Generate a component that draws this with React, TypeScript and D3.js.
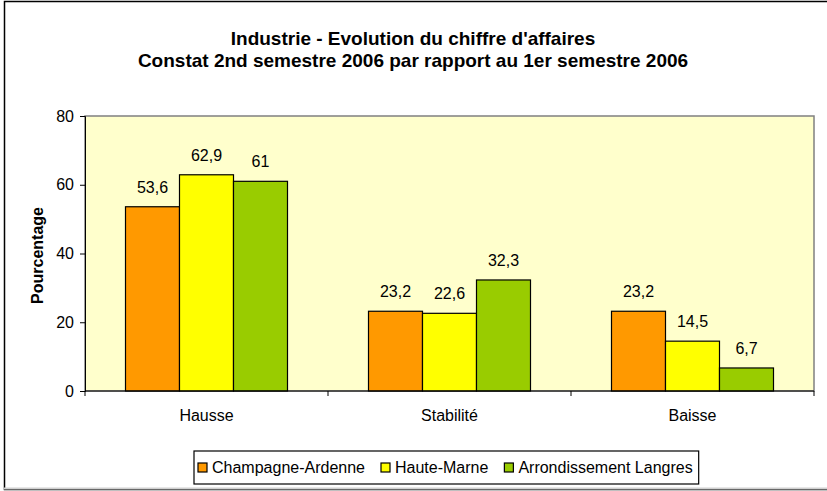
import { useEffect, useRef } from "react";
import * as d3 from "d3";

const categories = ["Hausse", "Stabilité", "Baisse"];
const seriesNames = ["Champagne-Ardenne", "Haute-Marne", "Arrondissement Langres"];
const champagne = [53.6, 23.2, 23.2];
const hauteMarne = [62.9, 22.6, 14.5];
const langres = [61, 32.3, 6.7];
const seriesColors = ["#FF9900", "#FFFF00", "#99CC00"];
const yTicks = [0, 20, 40, 60, 80];
const titleLines = [
  "Industrie - Evolution du chiffre d'affaires",
  "Constat 2nd semestre 2006 par rapport au 1er semestre 2006",
];

const W = 827;
const H = 491;
const plot = { left: 85, top: 116, right: 814, bottom: 391 };
const FONT = "'Liberation Sans', Arial, sans-serif";

const fmt = (v: number) => String(v).replace(".", ",");

export default function App() {
  const svgRef = useRef<SVGSVGElement>(null);

  useEffect(() => {
    const svg = d3.select(svgRef.current);
    svg.selectAll("*").remove();

    const values = [champagne, hauteMarne, langres];

    const x0 = d3.scaleBand().domain(categories).range([plot.left, plot.right]).paddingInner(0).paddingOuter(0);
    const x1 = d3
      .scaleBand()
      .domain(seriesNames)
      .range([0, x0.bandwidth()])
      .paddingInner(0)
      .paddingOuter(0.75);
    const y = d3.scaleLinear().domain([0, 80]).range([plot.bottom, plot.top]);

    // cadre extérieur
    svg.append("rect")
      .attr("x", 4.5).attr("y", 1.5)
      .attr("width", W + 10).attr("height", H - 3)
      .attr("fill", "#fff").attr("stroke", "#000").attr("stroke-width", 1.5);
    svg.append("line")
      .attr("x1", 4).attr("x2", W).attr("y1", H - 2.5).attr("y2", H - 2.5)
      .attr("stroke", "#d0d0d0").attr("stroke-width", 2);

    // titre
    svg.append("g").selectAll("text")
      .data(titleLines)
      .enter()
      .append("text")
      .attr("x", 413)
      .attr("y", (_d, i) => 45 + i * 22)
      .attr("text-anchor", "middle")
      .style("font-family", FONT)
      .style("font-weight", "bold")
      .style("font-size", "19px")
      .text((d) => d);

    // zone de traçage
    svg.append("rect")
      .attr("x", plot.left).attr("y", plot.top)
      .attr("width", plot.right - plot.left).attr("height", plot.bottom - plot.top)
      .attr("fill", "#FFFFCC").attr("stroke", "#808080").attr("stroke-width", 1.5);

    // barres
    const groups = svg.append("g").selectAll("g")
      .data(categories)
      .enter()
      .append("g")
      .attr("transform", (d) => `translate(${x0(d)},0)`);

    groups.selectAll("rect")
      .data((_c, ci) => seriesNames.map((s, si) => ({ s, si, v: values[si][ci] })))
      .enter()
      .append("rect")
      .attr("x", (d) => x1(d.s)!)
      .attr("y", (d) => y(d.v))
      .attr("width", x1.bandwidth())
      .attr("height", (d) => y(0) - y(d.v))
      .attr("fill", (d) => seriesColors[d.si])
      .attr("stroke", "#000")
      .attr("stroke-width", 1.2);

    groups.selectAll("text")
      .data((_c, ci) => seriesNames.map((s, si) => ({ s, si, v: values[si][ci] })))
      .enter()
      .append("text")
      .attr("x", (d) => x1(d.s)! + x1.bandwidth() / 2)
      .attr("y", (d) => y(d.v) - 14)
      .attr("text-anchor", "middle")
      .style("font-family", FONT)
      .style("font-size", "16px")
      .text((d) => fmt(d.v));

    // axe Y
    const yAxis = svg.append("g")
      .attr("transform", `translate(${plot.left},0)`)
      .call(d3.axisLeft(y).tickValues(yTicks).tickSize(5).tickPadding(6));
    yAxis.select(".domain").attr("stroke", "#000");
    yAxis.selectAll("text").style("font-family", FONT).style("font-size", "16px").attr("fill", "#000");

    // axe X
    const xAxis = svg.append("g").attr("transform", `translate(0,${plot.bottom})`);
    xAxis.append("line")
      .attr("x1", plot.left).attr("x2", plot.right)
      .attr("stroke", "#000");
    xAxis.selectAll("line.tick")
      .data([...categories.map((c) => x0(c)!), plot.right])
      .enter()
      .append("line")
      .attr("class", "tick")
      .attr("x1", (d) => d).attr("x2", (d) => d)
      .attr("y1", 0).attr("y2", 5)
      .attr("stroke", "#000");
    xAxis.selectAll("text")
      .data(categories)
      .enter()
      .append("text")
      .attr("x", (d) => x0(d)! + x0.bandwidth() / 2)
      .attr("y", 30)
      .attr("text-anchor", "middle")
      .style("font-family", FONT)
      .style("font-size", "16px")
      .text((d) => d);

    // titre de l'axe Y
    svg.append("text")
      .attr("transform", `translate(43,${(plot.top + plot.bottom) / 2 + 2}) rotate(-90)`)
      .attr("text-anchor", "middle")
      .style("font-family", FONT)
      .style("font-weight", "bold")
      .style("font-size", "16px")
      .text("Pourcentage");

    // légende
    const legend = svg.append("g");
    const legendBox = legend.append("rect")
      .attr("y", 451).attr("height", 33)
      .attr("fill", "#fff").attr("stroke", "#000").attr("stroke-width", 1.2);
    let cx = 198;
    seriesNames.forEach((name, i) => {
      legend.append("rect")
        .attr("x", cx).attr("y", 463)
        .attr("width", 9).attr("height", 9)
        .attr("fill", seriesColors[i]).attr("stroke", "#000").attr("stroke-width", 1.2);
      const t = legend.append("text")
        .attr("x", cx + 14).attr("y", 473)
        .style("font-family", FONT)
        .style("font-size", "16px")
        .text(name);
      const w = (t.node() as SVGTextElement).getComputedTextLength();
      cx += 14 + w + (i < seriesNames.length - 1 ? 16 : 0);
    });
    legendBox.attr("x", 194).attr("width", cx - 194 + 6);
  }, []);

  return (
    <svg ref={svgRef} width={W} height={H} style={{ display: "block", position: "absolute", left: 0, top: 0 }} />
  );
}
